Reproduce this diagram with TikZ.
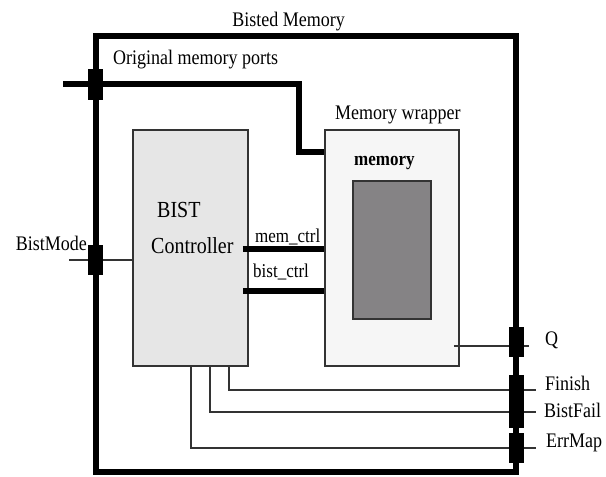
\documentclass[tikz,border=0pt]{standalone}
\usepackage{fontspec}
\setmainfont{Liberation Serif}
\usetikzlibrary{positioning,calc}
\definecolor{ctrlgray}{HTML}{E6E6E6}
\definecolor{wrapgray}{HTML}{F6F6F6}
\definecolor{arraygray}{HTML}{858385}
\definecolor{edgegray}{HTML}{333333}
\newcommand{\tall}[1]{\scalebox{1}[1.15]{#1}}

\begin{document}
\begin{tikzpicture}[x=1pt,y=-1pt,
    lbl/.style={font=\fontsize{18}{20}\selectfont, inner sep=0pt},
    sig/.style={font=\fontsize{17}{19}\selectfont, inner sep=0pt},
    block/.style={draw=edgegray, line width=1.5pt, rectangle, inner sep=0pt},
    port/.style={fill=black, minimum width=15pt, inner sep=0pt},
    wire/.style={draw=edgegray, line width=1.3pt},
    bus/.style={line width=6pt}]
  \useasboundingbox (0,0) rectangle (606,477);
  %\draw[help lines,step=10] (0,0) grid (606,477); %help grid

  % outer frame
  \node[draw, line width=6pt, minimum width=420pt, minimum height=436pt, inner sep=0pt] (bisted) at (306,254) {};
  \node[lbl, anchor=base] (title) at (288.5,26) {\tall{Bisted Memory}};

  % blocks
  \node[block, fill=ctrlgray, minimum width=115pt, minimum height=236pt] (ctrl) at (190.5,248) {};
  \node[lbl, font=\fontsize{20}{22}\selectfont, anchor=base west] (bisttxt) at (157,217) {\tall{BIST}};
  \node[lbl, font=\fontsize{20}{22}\selectfont, anchor=base west] (ctrltxt) at (151,253) {\tall{Controller}};
  \node[block, fill=wrapgray, minimum width=134pt, minimum height=236pt] (wrap) at (392,248) {};
  \node[lbl, anchor=base west] (wraptxt) at (335,119) {\tall{Memory wrapper}};
  \node[lbl, font=\bfseries\fontsize{17}{19}\selectfont, anchor=base west] (memtxt) at (354,165) {\tall{memory}};
  \node[block, fill=arraygray, minimum width=78pt, minimum height=138pt] (memarray) at (392,250) {};

  % signal levels
  \coordinate (origIn) at (63,84);
  \coordinate (origTurn) at (299,84);
  \coordinate (origY) at (0,152);
  \coordinate (memY) at (0,249);
  \coordinate (bistY) at (0,291);
  \coordinate (modeIn) at (69,260);
  \coordinate (qY) at (0,346);
  \coordinate (qOut) at (529,346);
  \coordinate (finX) at (229,0);
  \coordinate (failX) at (210,0);
  \coordinate (errX) at (191,0);
  \coordinate (finOut) at (536,390);
  \coordinate (failOut) at (536,412);
  \coordinate (errOut) at (536,448);

  % buses
  \draw[bus] (origIn) -- (origTurn) |- (wrap.west |- origY);
  \draw[bus] ($(ctrl.east |- memY)+(-6,0)$) -- (wrap.west |- memY);
  \draw[bus] ($(ctrl.east |- bistY)+(-6,0)$) -- (wrap.west |- bistY);
  \node[sig, anchor=base west] (memctrl) at (255,242) {\tall{mem\_ctrl}};
  \node[sig, anchor=base west] (bistctrl) at (253,277) {\tall{bist\_ctrl}};

  % wires
  \draw[wire] (modeIn) -- (ctrl.west |- modeIn);
  \draw[wire] ($(wrap.east |- qY)+(-6,0)$) -- (qOut);
  \draw[wire] (ctrl.south -| finX) |- (finOut);
  \draw[wire] (ctrl.south -| failX) |- (failOut);
  \draw[wire] (ctrl.south -| errX) |- (errOut);

  % ports
  \node[port, minimum height=31pt] (pOrig) at (95,84) {};
  \node[port, minimum height=30pt] (pMode) at (95,260) {};
  \node[port, minimum height=30pt] (pQ) at (516,342) {};
  \node[port, minimum height=53pt] (pFin) at (516,401.5) {};
  \node[port, minimum height=30pt] (pErr) at (516,448) {};

  % port labels
  \node[lbl, anchor=base west] (origtxt) at (113,64) {\tall{Original memory ports}};
  \node[lbl, anchor=base east] (modetxt) at (87,250) {\tall{BistMode}};
  \node[lbl, anchor=base west] (qtxt) at (545,345) {\tall{Q}};
  \node[lbl, anchor=base west] (fintxt) at (545,390) {\tall{Finish}};
  \node[lbl, anchor=base west] (failtxt) at (544,417) {\tall{BistFail}};
  \node[lbl, anchor=base west] (errtxt) at (546,447) {\tall{ErrMap}};
\end{tikzpicture}
\end{document}
